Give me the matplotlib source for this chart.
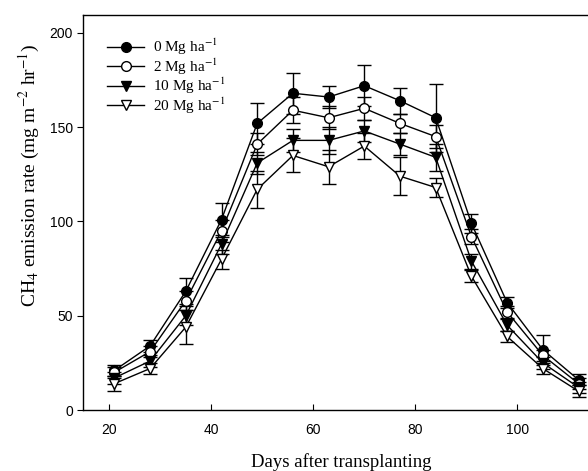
import matplotlib
matplotlib.use("Agg")
import matplotlib.pyplot as plt

plt.rcParams["mathtext.fontset"] = "stix"

days = [21, 28, 35, 42, 49, 56, 63, 70, 77, 84, 91, 98, 105, 112]

mg0 = [21, 34, 63, 101, 152, 168, 166, 172, 164, 155, 99, 57, 32, 16]
mg0_err = [3, 3, 7, 9, 11, 11, 6, 11, 7, 18, 5, 3, 8, 3]
mg2 = [20, 31, 58, 95, 141, 159, 155, 160, 152, 145, 92, 52, 29, 14]
mg2_err = [3, 3, 5, 6, 6, 7, 6, 6, 5, 6, 4, 3, 3, 3]
mg10 = [17, 26, 50, 88, 131, 143, 143, 148, 141, 134, 79, 45, 25, 12]
mg10_err = [3, 3, 5, 5, 6, 6, 7, 6, 6, 7, 4, 3, 3, 3]
mg20 = [14, 22, 44, 80, 117, 135, 129, 140, 124, 118, 71, 39, 22, 10]
mg20_err = [4, 3, 9, 5, 10, 9, 9, 7, 10, 5, 3, 3, 3, 3]

labels = ["0 Mg ha$^{-1}$", "2 Mg ha$^{-1}$", "10 Mg ha$^{-1}$", "20 Mg ha$^{-1}$"]
series = [mg0, mg2, mg10, mg20]
errors = [mg0_err, mg2_err, mg10_err, mg20_err]
markers = ["o", "o", "v", "v"]
faces = ["black", "white", "black", "white"]

fig = plt.figure(figsize=(5.88, 4.71), dpi=100)
ax = fig.add_axes([83.3 / 588, 61 / 471, 515.6 / 588, 395 / 471])

handles = []
for vals, err, m, fc, lab in zip(series, errors, markers, faces, labels):
    cont = ax.errorbar(days, vals, yerr=err, fmt="-", marker=m, color="black",
                       mfc=fc, mec="black", ms=7, lw=1.0, elinewidth=1.0,
                       capsize=5, capthick=1.0, label=lab, zorder=3)
    handles.append(cont[0])

ax.set_xlim(14.9, 116)
ax.set_ylim(0, 209.5)
ax.set_xticks([20, 40, 60, 80, 100])
ax.set_yticks([0, 50, 100, 150, 200])
ax.tick_params(axis="x", direction="in", length=4, labelsize=10, pad=9)
ax.tick_params(axis="y", direction="out", length=4, labelsize=10)
for t in ax.get_xticklabels() + ax.get_yticklabels():
    t.set_fontfamily("Liberation Sans")

ax.set_xlabel("Days after transplanting", fontsize=13.5, family="Liberation Serif", labelpad=12)
ax.set_ylabel("CH$_4$ emission rate (mg m$^{-2}$ hr$^{-1}$)", fontsize=14,
              family="Liberation Serif")
ax.yaxis.set_label_coords(-0.080, 0.595)

leg = ax.legend(handles=handles, labels=labels, loc="upper left",
                bbox_to_anchor=(0.035, 0.96), frameon=False,
                prop={"family": "Liberation Serif", "size": 11},
                handlelength=2.4, handletextpad=0.6, labelspacing=-0.05,
                borderaxespad=0)

for s in ax.spines.values():
    s.set_linewidth(1.0)

fig.savefig("out.png", dpi=100)
